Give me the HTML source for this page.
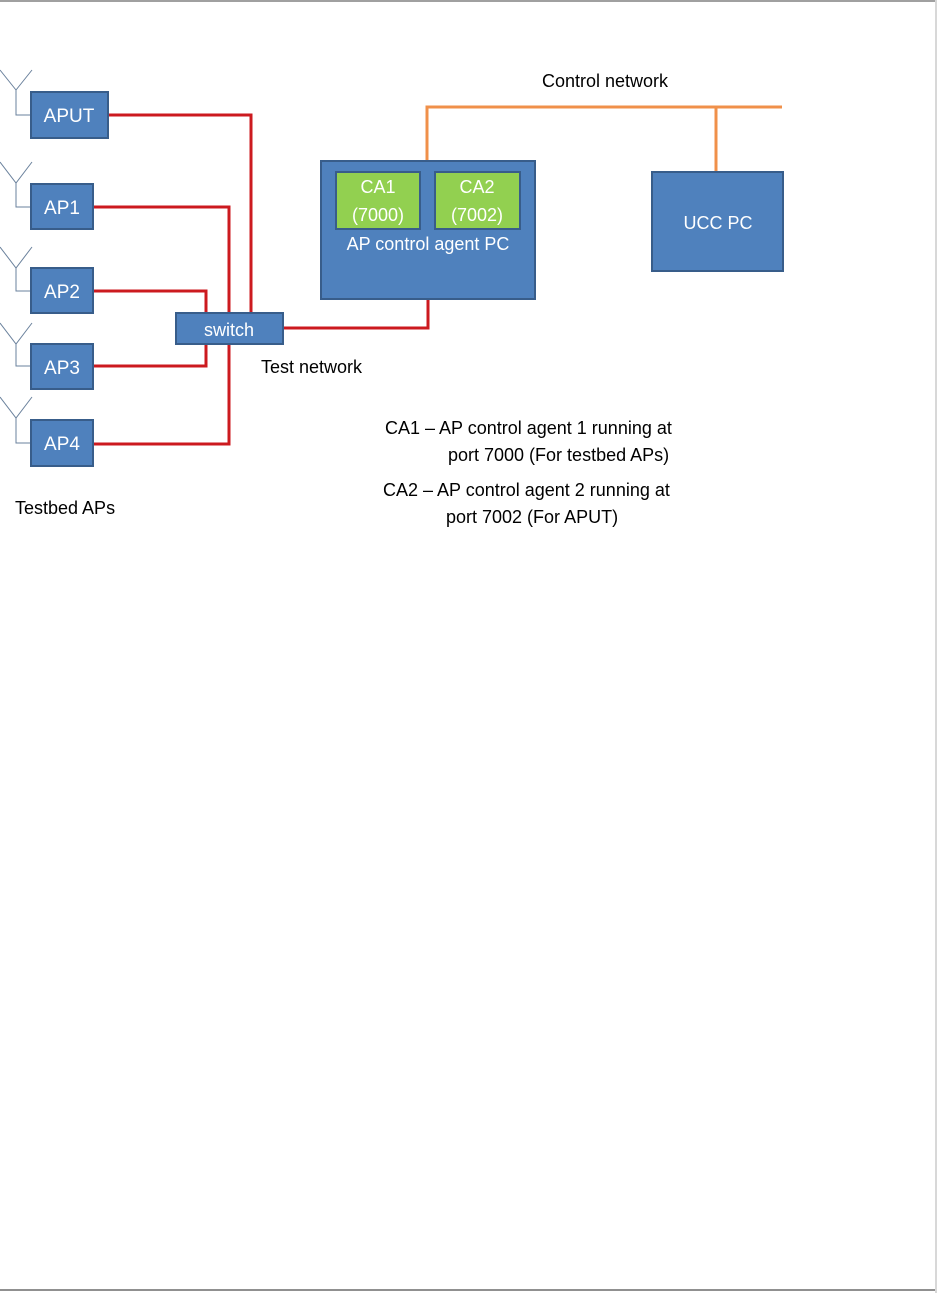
<!DOCTYPE html>
<html><head><meta charset="utf-8"><style>
html,body{margin:0;padding:0;background:#fff}
svg{display:block}
text{font-family:"Liberation Sans",sans-serif}
</style></head><body>
<svg width="937" height="1293" viewBox="0 0 937 1293" xmlns="http://www.w3.org/2000/svg">
<rect x="0" y="0" width="937" height="2" fill="#a0a0a0"/>
<rect x="0" y="1289" width="937" height="2" fill="#909090"/>
<rect x="935" y="0" width="2" height="1293" fill="#d8d8d8"/>

<!-- antennas -->
<g stroke="#6a819c" stroke-width="1" fill="none">
<path d="M0,70 L16,90 L32,70 M16,90 V115 H31"/>
<path d="M0,162 L16,183 L32,162 M16,183 V207 H31"/>
<path d="M0,247 L16,268 L32,247 M16,268 V291 H31"/>
<path d="M0,323 L16,344 L32,323 M16,344 V366 H31"/>
<path d="M0,397 L16,418 L32,397 M16,418 V443 H31"/>
</g>

<!-- red lines -->
<g stroke="#cc1a1f" stroke-width="3" fill="none">
<path d="M108,115 H251 V313"/>
<path d="M93,207 H229 V444 H93"/>
<path d="M93,291 H206 V366 H93"/>
<path d="M283,328 H428 V299"/>
<path d="M229,344 V444"/>
</g>

<!-- orange -->
<g stroke="#f0904a" stroke-width="3" fill="none">
<path d="M427,161 V107 H782"/>
<path d="M716,107 V172"/>
</g>

<g fill="#4f81bd" stroke="#385d8a" stroke-width="2">
<rect x="31" y="92" width="77" height="46"/>
<rect x="31" y="184" width="62" height="45"/>
<rect x="31" y="268" width="62" height="45"/>
<rect x="31" y="344" width="62" height="45"/>
<rect x="31" y="420" width="62" height="46"/>
<rect x="176" y="313" width="107" height="31"/>
<rect x="321" y="161" width="214" height="138"/>
<rect x="652" y="172" width="131" height="99"/>
</g>
<g fill="#92d050" stroke="#385d8a" stroke-width="2">
<rect x="336" y="172" width="84" height="57"/>
<rect x="435" y="172" width="85" height="57"/>
</g>

<g fill="#fff" font-size="19" text-anchor="middle">
<text x="69" y="122">APUT</text>
<text x="62" y="214">AP1</text>
<text x="62" y="298">AP2</text>
<text x="62" y="374">AP3</text>
<text x="62" y="450">AP4</text>
<text x="229" y="336" font-size="18">switch</text>
<text x="378" y="193" font-size="18">CA1</text>
<text x="378" y="221" font-size="18">(7000)</text>
<text x="477" y="193" font-size="18">CA2</text>
<text x="477" y="221" font-size="18">(7002)</text>
<text x="428" y="250" font-size="18">AP control agent  PC</text>
<text x="718" y="229" font-size="18">UCC PC</text>
</g>

<g fill="#000" font-size="18">
<text x="542" y="87">Control network</text>
<text x="261" y="373">Test network</text>
<text x="15" y="514">Testbed APs</text>
<text x="385" y="434">CA1 – AP control agent 1 running at</text>
<text x="448" y="461">port 7000 (For testbed APs)</text>
<text x="383" y="496">CA2 – AP control agent 2 running at</text>
<text x="446" y="523">port 7002 (For APUT)</text>
</g>
</svg>
</body></html>
